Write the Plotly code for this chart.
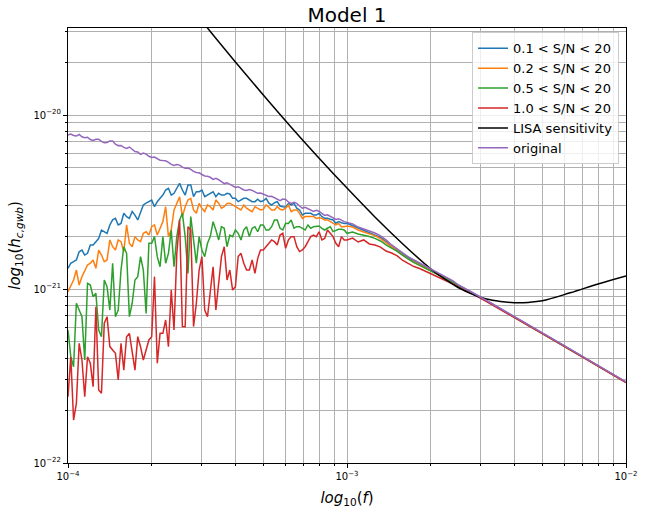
import numpy as np
import plotly.graph_objects as go

# frequency grid (log10 f) for the main samples
log_f = [-4.00, -3.98, -3.96, -3.94, -3.92, -3.90, -3.88, -3.86, -3.84, -3.82,
         -3.80, -3.78, -3.76, -3.74, -3.72, -3.70, -3.68, -3.66, -3.64, -3.62,
         -3.60, -3.58, -3.56, -3.54, -3.52, -3.50, -3.48, -3.46, -3.44, -3.42,
         -3.40, -3.38, -3.36, -3.34, -3.32, -3.30, -3.28, -3.26, -3.24, -3.22,
         -3.20, -3.18, -3.16, -3.14, -3.12, -3.10, -3.08, -3.06, -3.04, -3.02,
         -3.00, -2.98, -2.96, -2.94, -2.92, -2.90, -2.88, -2.86, -2.84, -2.82,
         -2.80, -2.78, -2.76, -2.74, -2.72, -2.70, -2.68, -2.66, -2.64, -2.62,
         -2.60, -2.55, -2.50, -2.45, -2.40, -2.35, -2.30, -2.25, -2.20, -2.15,
         -2.10, -2.05, -2.00]

# extra samples in the noisy low-frequency part
log_f_mid = [-3.99, -3.97, -3.95, -3.93, -3.91, -3.89, -3.87, -3.85, -3.83, -3.81,
             -3.79, -3.77, -3.75, -3.73, -3.71, -3.69, -3.67, -3.65, -3.63, -3.61,
             -3.59, -3.57, -3.55, -3.53, -3.51, -3.49, -3.47, -3.45, -3.43, -3.41,
             -3.39, -3.37, -3.35, -3.33, -3.31, -3.29, -3.27, -3.25, -3.23, -3.21,
             -3.19, -3.17, -3.15, -3.13, -3.11, -3.09, -3.07, -3.05, -3.03, -3.01]

# log10(h_c) for each S/N cut
log_h_sn01 = [-20.881, -20.843, -20.786, -20.805, -20.747, -20.728, -20.661, -20.680, -20.603, -20.632,
              -20.565, -20.594, -20.575, -20.556, -20.507, -20.489, -20.498, -20.460, -20.421, -20.450,
              -20.393, -20.460, -20.402, -20.441, -20.431, -20.460, -20.441, -20.450, -20.460, -20.454,
              -20.479, -20.489, -20.479, -20.498, -20.484, -20.493, -20.507, -20.504, -20.523, -20.530,
              -20.517, -20.536, -20.575, -20.565, -20.575, -20.565, -20.594, -20.599, -20.622, -20.619,
              -20.622,
              -20.635, -20.652, -20.664, -20.675, -20.687, -20.704, -20.727, -20.756, -20.778, -20.800,
              -20.822, -20.839, -20.856, -20.874, -20.889, -20.906, -20.923, -20.940, -20.957, -20.980,
              -21.021, -21.067, -21.113, -21.159, -21.206, -21.253, -21.300, -21.347, -21.394, -21.441,
              -21.488, -21.535]
log_h_sn01_mid = [-20.852, -20.833, -20.776, -20.795, -20.747, -20.709, -20.670, -20.632, -20.594, -20.623,
                  -20.584, -20.555, -20.603, -20.517, -20.498, -20.527, -20.479, -20.431, -20.460, -20.421,
                  -20.431, -20.402, -20.469, -20.441, -20.469, -20.450, -20.469, -20.460, -20.450, -20.479,
                  -20.498, -20.479, -20.488, -20.498, -20.498, -20.479, -20.517, -20.498, -20.527, -20.508,
                  -20.508, -20.546, -20.565, -20.565, -20.575, -20.584, -20.594, -20.603, -20.613, -20.623]

log_h_sn02 = [-21.016, -20.948, -20.977, -20.891, -20.852, -20.881, -20.805, -20.833, -20.757, -20.718,
              -20.786, -20.737, -20.699, -20.728, -20.671, -20.642, -20.690, -20.613, -20.699, -20.546,
              -20.470, -20.527, -20.479, -20.565, -20.536, -20.517, -20.546, -20.507, -20.527, -20.507,
              -20.527, -20.546, -20.536, -20.556, -20.536, -20.542, -20.530, -20.546, -20.542, -20.536,
              -20.556, -20.546, -20.594, -20.584, -20.584, -20.590, -20.603, -20.613, -20.632, -20.642,
              -20.638,
              -20.644, -20.661, -20.672, -20.684, -20.693, -20.710, -20.733, -20.759, -20.782, -20.805,
              -20.828, -20.845, -20.862, -20.878, -20.894, -20.910, -20.926, -20.943, -20.960, -20.983,
              -21.022, -21.068, -21.114, -21.160, -21.207, -21.254, -21.301, -21.348, -21.395, -21.442,
              -21.489, -21.536]
log_h_sn02_mid = [-20.977, -20.891, -20.929, -20.862, -20.833, -20.776, -20.843, -20.718, -20.776, -20.728,
                  -20.632, -20.757, -20.718, -20.680, -20.690, -20.632, -20.651, -20.527, -20.661, -20.508,
                  -20.584, -20.488, -20.546, -20.508, -20.555, -20.527, -20.488, -20.536, -20.508, -20.517,
                  -20.536, -20.517, -20.546, -20.527, -20.546, -20.517, -20.546, -20.527, -20.546, -20.517,
                  -20.546, -20.565, -20.584, -20.584, -20.594, -20.594, -20.603, -20.623, -20.623, -20.642]

log_h_sn05 = [-21.236, -21.447, -21.121, -21.408, -20.977, -21.025, -21.274, -20.987, -20.852, -21.121,
              -20.757, -21.159, -20.948, -20.814, -21.140, -20.737, -20.814, -20.699, -20.795, -20.872,
              -20.603, -20.699, -20.584, -20.852, -20.776, -20.737, -20.613, -20.718, -20.651, -20.690,
              -20.661, -20.718, -20.642, -20.651, -20.671, -20.632, -20.661, -20.603, -20.651, -20.622,
              -20.603, -20.642, -20.651, -20.632, -20.642, -20.638, -20.661, -20.642, -20.665, -20.657,
              -20.680,
              -20.672, -20.684, -20.690, -20.698, -20.709, -20.724, -20.747, -20.764, -20.784, -20.807,
              -20.830, -20.848, -20.864, -20.880, -20.897, -20.913, -20.929, -20.945, -20.961, -20.984,
              -21.023, -21.069, -21.115, -21.161, -21.208, -21.255, -21.302, -21.349, -21.396, -21.443,
              -21.490, -21.537]
log_h_sn05_mid = [-21.389, -21.082, -21.159, -20.967, -21.044, -21.236, -20.948, -21.121, -21.159, -20.891,
                  -20.795, -21.082, -20.929, -20.891, -20.737, -20.699, -20.872, -20.852, -20.661, -20.699,
                  -20.565, -20.910, -20.737, -20.699, -20.814, -20.699, -20.661, -20.642, -20.757, -20.699,
                  -20.680, -20.661, -20.699, -20.642, -20.632, -20.661, -20.642, -20.603, -20.661, -20.623,
                  -20.651, -20.642, -20.661, -20.651, -20.642, -20.651, -20.651, -20.670, -20.657, -20.661]

log_h_sn10 = [-21.619, -21.753, -21.312, -21.619, -21.427, -21.102, -21.599, -21.159, -21.351, -21.523,
              -21.466, -21.255, -21.466, -21.332, -21.351, -21.274, -21.427, -21.255, -21.332, -21.236,
              -20.603, -21.217, -20.661, -21.082, -20.814, -21.159, -20.872, -20.967, -20.757, -20.891,
              -20.987, -20.795, -20.891, -20.833, -20.824, -20.776, -20.737, -20.728, -20.690, -20.766,
              -20.699, -20.757, -20.776, -20.728, -20.690, -20.671, -20.709, -20.680, -20.737, -20.699,
              -20.718,
              -20.707, -20.730, -20.718, -20.741, -20.747, -20.759, -20.782, -20.793, -20.810, -20.836,
              -20.856, -20.871, -20.882, -20.897, -20.911, -20.925, -20.940, -20.956, -20.971, -20.991,
              -21.028, -21.072, -21.117, -21.162, -21.209, -21.256, -21.303, -21.350, -21.397, -21.444,
              -21.491, -21.538]
log_h_sn10_mid = [-21.389, -21.657, -21.408, -21.389, -21.561, -21.580, -21.197, -21.331, -21.370, -21.312,
                  -21.274, -21.370, -21.274, -21.408, -21.293, -20.929, -21.255, -21.178, -21.006, -20.795,
                  -21.216, -20.642, -21.216, -20.891, -21.121, -21.006, -21.121, -20.814, -20.948, -21.006,
                  -20.814, -20.852, -20.891, -20.910, -20.776, -20.757, -20.718, -20.747, -20.680, -20.718,
                  -20.699, -20.785, -20.757, -20.699, -20.699, -20.718, -20.661, -20.699, -20.757, -20.718]

log_h_orig = [-20.115, -20.118, -20.112, -20.130, -20.141, -20.140, -20.152, -20.158, -20.150, -20.176,
              -20.186, -20.184, -20.210, -20.226, -20.225, -20.244, -20.250, -20.262, -20.272, -20.290,
              -20.288, -20.306, -20.312, -20.330, -20.342, -20.352, -20.370, -20.372, -20.394, -20.398,
              -20.416, -20.422, -20.434, -20.433, -20.450, -20.456, -20.468, -20.475, -20.492, -20.485,
              -20.508, -20.508, -20.536, -20.537, -20.554, -20.553, -20.577, -20.583, -20.600, -20.606,
              -20.617,
              -20.626, -20.644, -20.655, -20.667, -20.678, -20.695, -20.718, -20.747, -20.770, -20.793,
              -20.816, -20.833, -20.851, -20.868, -20.885, -20.902, -20.920, -20.937, -20.954, -20.977,
              -21.020, -21.066, -21.112, -21.158, -21.205, -21.252, -21.299, -21.346, -21.393, -21.440,
              -21.487, -21.534]
log_h_orig_mid = [-20.110, -20.121, -20.125, -20.128, -20.146, -20.139, -20.160, -20.149, -20.168, -20.175,
                  -20.192, -20.199, -20.212, -20.219, -20.237, -20.242, -20.260, -20.263, -20.284, -20.285,
                  -20.300, -20.305, -20.324, -20.332, -20.350, -20.358, -20.364, -20.385, -20.389, -20.410,
                  -20.412, -20.431, -20.428, -20.444, -20.449, -20.465, -20.467, -20.486, -20.483, -20.500,
                  -20.502, -20.523, -20.530, -20.546, -20.548, -20.566, -20.574, -20.594, -20.596, -20.613]

# LISA sensitivity curve
lisa_log_f = [-3.55, -3.50, -3.40, -3.30, -3.20, -3.10, -3.00, -2.90, -2.80, -2.70,
              -2.65, -2.60, -2.55, -2.50, -2.45, -2.40, -2.35, -2.30, -2.20, -2.10, -2.00]
lisa_log_h = [-19.398, -19.500, -19.695, -19.885, -20.070, -20.248, -20.420, -20.586, -20.741, -20.884,
              -20.942, -20.993, -21.030, -21.058, -21.072, -21.079, -21.077, -21.068, -21.022, -20.971,
              -20.925]

series_names = ["0.1 < S/N < 20", "0.2 < S/N < 20", "0.5 < S/N < 20", "1.0 < S/N < 20"]
series_vals = [(log_h_sn01, log_h_sn01_mid), (log_h_sn02, log_h_sn02_mid),
               (log_h_sn05, log_h_sn05_mid), (log_h_sn10, log_h_sn10_mid)]
colors = ["#1f77b4", "#ff7f0e", "#2ca02c", "#d62728"]

x_all = np.array(log_f + log_f_mid)
order = np.argsort(x_all)
f = 10 ** x_all[order]


def merged(main, mid):
    return 10 ** np.array(main + mid)[order]


fig = go.Figure()
for name, (main, mid), c in zip(series_names, series_vals, colors):
    fig.add_trace(go.Scatter(x=f, y=merged(main, mid), mode="lines", name=name,
                             line=dict(color=c, width=1.5)))
fig.add_trace(go.Scatter(x=10 ** np.array(lisa_log_f), y=10 ** np.array(lisa_log_h), mode="lines",
                         name="LISA sensitivity", line=dict(color="black", width=1.5, shape="spline")))
fig.add_trace(go.Scatter(x=f, y=merged(log_h_orig, log_h_orig_mid), mode="lines", name="original",
                         line=dict(color="#9467bd", width=1.5)))

x_major = [1e-4, 1e-3, 1e-2]
x_major_text = ["10<sup>−4</sup>", "10<sup>−3</sup>", "10<sup>−2</sup>"]
y_major = [1e-22, 1e-21, 1e-20]
y_major_text = ["10<sup>−22</sup>", "10<sup>−21</sup>", "10<sup>−20</sup>"]
x_minor = [m * 10.0 ** e for e in (-4, -3) for m in range(2, 10)]
y_minor = [m * 10.0 ** e for e in (-22, -21, -20) for m in range(2, 10)]

grid = "#b0b0b0"
common = dict(type="log", showline=True, linecolor="black", linewidth=1, mirror=True,
              ticks="outside", ticklen=4, tickcolor="black", showgrid=True, gridcolor=grid,
              gridwidth=0.8, zeroline=False, automargin=False,
              tickfont=dict(size=10, color="black"))

fig.update_layout(
    width=645, height=514,
    margin=dict(l=68, r=19, t=28, b=51),
    paper_bgcolor="white", plot_bgcolor="white",
    font=dict(family="DejaVu Sans", color="black"),
    title=dict(text="Model 1", x=0.5, xref="paper", y=0.971, yanchor="middle",
               font=dict(size=20, color="black")),
    xaxis=dict(range=[-4, -2], tickvals=x_major, ticktext=x_major_text,
               minor=dict(tickvals=x_minor, ticks="outside", ticklen=2, tickcolor="black",
                          showgrid=True, gridcolor=grid, gridwidth=0.8),
               title=dict(text="<i>log</i><sub>10</sub>(<i>f</i>)", font=dict(size=15), standoff=11),
               **common),
    yaxis=dict(range=[-22, -19.5], tickvals=y_major, ticktext=y_major_text,
               minor=dict(tickvals=y_minor, ticks="outside", ticklen=2, tickcolor="black",
                          showgrid=True, gridcolor=grid, gridwidth=0.8),
               title=dict(text="<i>log</i><sub>10</sub>(<i>h</i><sub><i>c,gwb</i></sub>)",
                          font=dict(size=15), standoff=9),
               **common),
    legend=dict(x=0.9875, y=0.99, xanchor="right", yanchor="top",
                bgcolor="rgba(255,255,255,0.8)", bordercolor="#cccccc", borderwidth=1,
                font=dict(size=13), itemwidth=30, tracegroupgap=0),
    showlegend=True,
)

# remove the page's default body margin so the figure sits at the window's top-left corner
fig.write_html("out.html", config={"displayModeBar": False},
               post_script="document.body.style.margin='0';")
